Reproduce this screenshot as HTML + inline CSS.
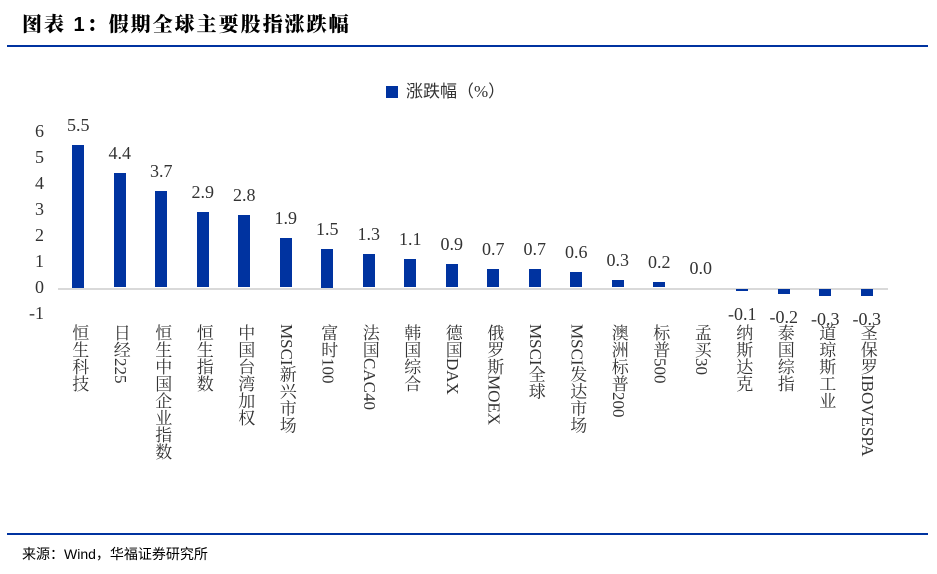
<!DOCTYPE html>
<html><head><meta charset="utf-8">
<style>
body{margin:0;width:937px;height:574px;background:#fff;position:relative;overflow:hidden;font-family:"Liberation Serif","Noto Serif CJK SC",serif;}
.abs{position:absolute}
.vl{position:absolute;writing-mode:vertical-rl;font-size:17px;color:#333;white-space:nowrap;line-height:18px;}
.val{position:absolute;font-size:18px;color:#333;text-align:center;width:60px;}
</style></head><body>
<div class="abs" style="left:22px;top:8px;font-family:'Liberation Sans','Noto Serif CJK SC',serif;font-weight:900;font-size:20px;letter-spacing:2px;color:#000">图表 1：假期全球主要股指涨跌幅</div>
<div class="abs" style="left:7px;top:45px;width:921px;height:2px;background:#0033a0"></div>
<div class="abs" style="left:386px;top:77px;font-size:17px;color:#333;font-family:'Liberation Serif','Noto Sans CJK SC',serif"><span style="display:inline-block;width:12px;height:12px;background:#0033a0;margin-right:8px;vertical-align:-1px"></span>涨跌幅（%）</div>
<div id="chart"></div>
<div class="abs" style="left:7px;top:533px;width:921px;height:2px;background:#0033a0"></div>
<div class="abs" style="left:22px;top:544px;font-size:14px;color:#000;font-family:'Liberation Sans','Noto Sans CJK SC',sans-serif">来源：Wind，华福证券研究所</div>
<script>
const categories=["恒生科技","日经225","恒生中国企业指数","恒生指数","中国台湾加权","MSCI新兴市场","富时100","法国CAC40","韩国综合","德国DAX","俄罗斯MOEX","MSCI全球","MSCI发达市场","澳洲标普200","标普500","孟买30","纳斯达克","泰国综指","道琼斯工业","圣保罗IBOVESPA"];
const values=[5.5,4.4,3.7,2.9,2.8,1.9,1.5,1.3,1.1,0.9,0.7,0.7,0.6,0.3,0.2,0.0,-0.1,-0.2,-0.3,-0.3];
const valueLabels=["5.5","4.4","3.7","2.9","2.8","1.9","1.5","1.3","1.1","0.9","0.7","0.7","0.6","0.3","0.2","0.0","-0.1","-0.2","-0.3","-0.3"];
const yTicks=[6,5,4,3,2,1,0,-1];
const c=document.getElementById('chart');
const x0=57.5,step=41.5,zeroY=287.5,unit=26;
const yOf=v=>zeroY-v*unit;
const xOf=i=>x0+step*(i+0.5);
yTicks.forEach(t=>{const d=document.createElement('div');


d.className='abs';d.style.cssText=`left:20px;width:24px;top:${yOf(t)-11}px;font-size:18px;color:#333;text-align:right`;d.textContent=t;c.appendChild(d);});
const ax=document.createElement('div');


ax.className='abs';ax.style.cssText=`left:${x0}px;top:${zeroY}px;width:${step*20}px;height:2px;background:#d9d9d9`;c.appendChild(ax);
values.forEach((v,i)=>{
const b=document.createElement('div');


b.className='abs';const top=Math.min(yOf(v),zeroY),h=Math.abs(v)*unit;
b.style.cssText=`left:${xOf(i)-6}px;top:${v<0?zeroY+1:top}px;width:12px;height:${h}px;background:#0033a0`;c.appendChild(b);
const l=document.createElement('div');


l.className='val';l.textContent=valueLabels[i];
l.style.left=(xOf(i)-30)+'px';l.style.top=(v<0?yOf(v)+14:top-30)+'px';c.appendChild(l);
const cl=document.createElement('div');


cl.className='vl';cl.textContent=categories[i];
cl.style.left=(xOf(i)-9)+'px';cl.style.top='324px';c.appendChild(cl);
});
</script>
</body></html>
